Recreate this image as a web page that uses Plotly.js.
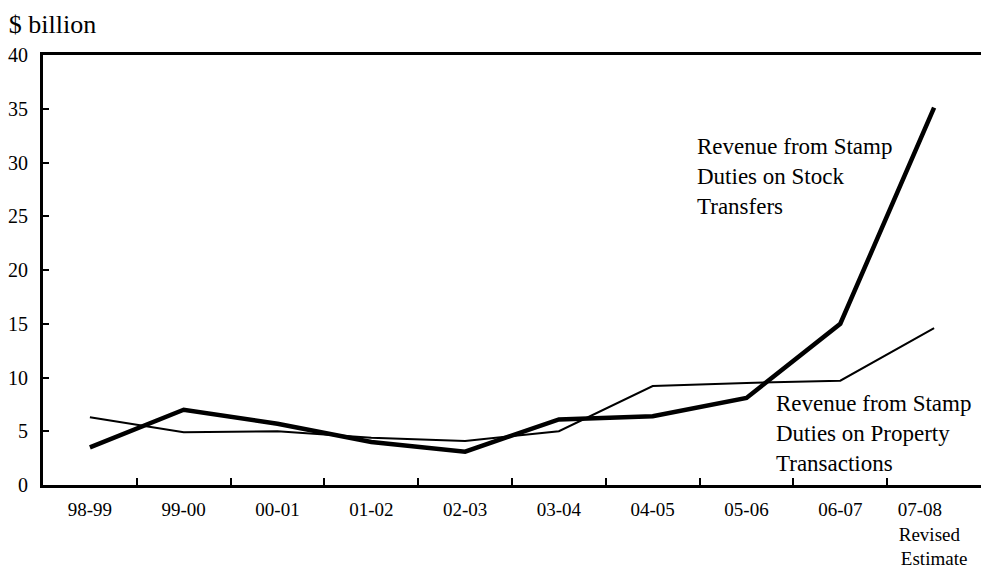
<!DOCTYPE html>
<html>
<head>
<meta charset="utf-8">
<script src="https://cdn.plot.ly/plotly-3.0.1.min.js"></script>
<style>html,body{margin:0;padding:0;background:#fff;}#chart{width:981px;height:570px;}</style>
</head>
<body>
<div id="chart"></div>
<script>
var categories = ["98-99","99-00","00-01","01-02","02-03","03-04","04-05","05-06","06-07","07-08"];
var tickLabels = ["98-99","99-00","00-01","01-02","02-03","03-04","04-05","05-06","06-07","07-08&nbsp;&nbsp;&nbsp;&nbsp;&nbsp;&nbsp;<br>Revised&nbsp;&nbsp;<br>Estimate"];
var stockTransfers = [3.5, 7.0, 5.7, 4.0, 3.1, 6.1, 6.4, 8.1, 15.0, 35.1];
var propertyTransactions = [6.3, 4.9, 5.0, 4.4, 4.1, 5.0, 9.2, 9.5, 9.7, 14.6];
var yTicks = [0, 5, 10, 15, 20, 25, 30, 35, 40];

var font = "Liberation Serif, Times New Roman, serif";

var traces = [
  {x: categories, y: propertyTransactions, type: "scatter", mode: "lines",
   line: {color: "#000", width: 2}, hoverinfo: "y", name: "Property"},
  {x: categories, y: stockTransfers, type: "scatter", mode: "lines",
   line: {color: "#000", width: 4.5}, hoverinfo: "y", name: "Stock"}
];

var layout = {
  width: 981, height: 570,
  margin: {l: 43, r: 0, t: 55, b: 85},
  paper_bgcolor: "#fff", plot_bgcolor: "#fff",
  showlegend: false,
  font: {family: font, color: "#000", size: 19},
  title: {text: "$ billion", x: 0.009, xanchor: "left", xref: "container",
          y: 0.958, yanchor: "middle", yref: "container",
          font: {family: font, size: 26, color: "#000"}},
  xaxis: {
    type: "category", range: [-0.5, 9.5],
    tickmode: "array", tickvals: categories, ticktext: tickLabels,
    tickson: "boundaries", ticks: "inside", ticklen: 7, tickwidth: 2, tickcolor: "#000",
    showline: true, linecolor: "#000", linewidth: 3, mirror: true,
    showgrid: false, zeroline: false, fixedrange: true,
    ticklabelstandoff: 5,
    tickfont: {family: font, size: 19, color: "#000"}
  },
  yaxis: {
    range: [0, 40], tickmode: "array", tickvals: yTicks,
    ticks: "inside", ticklen: 6, tickwidth: 2, tickcolor: "#000",
    showline: true, linecolor: "#000", linewidth: 3, mirror: false,
    showgrid: false, zeroline: false, fixedrange: true,
    ticklabelstandoff: 8,
    tickfont: {family: font, size: 20, color: "#000"}
  },
  annotations: [
    {x: 6.45, y: 28.7, xref: "x", yref: "y", xanchor: "left", yanchor: "middle", align: "left",
     showarrow: false, text: "Revenue from Stamp<br>Duties on Stock<br>Transfers",
     font: {family: font, size: 23, color: "#000"}},
    {x: 7.29, y: 4.75, xref: "x", yref: "y", xanchor: "left", yanchor: "middle", align: "left",
     showarrow: false, text: "Revenue from Stamp<br>Duties on Property<br>Transactions",
     font: {family: font, size: 23, color: "#000"}}
  ]
};

Plotly.newPlot("chart", traces, layout, {displayModeBar: false, staticPlot: true});
</script>
</body>
</html>
